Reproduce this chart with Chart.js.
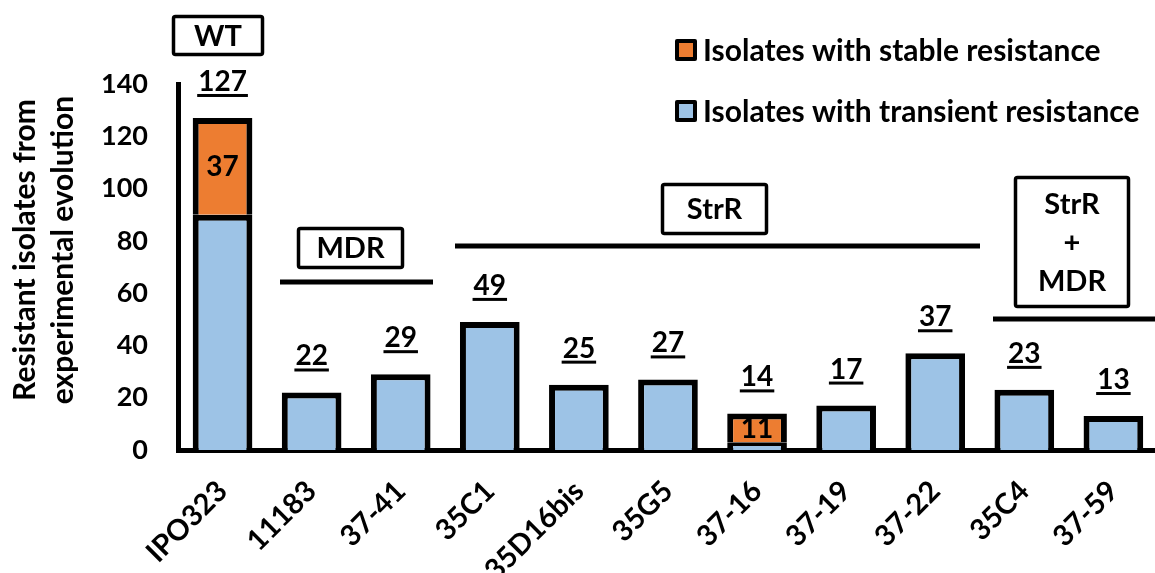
<!DOCTYPE html>
<html><head><meta charset="utf-8">
<script src="https://cdn.jsdelivr.net/npm/chart.js@4/dist/chart.umd.min.js"></script>
<style>html,body{margin:0;padding:0;background:#fff;overflow:hidden}#wrap{width:1155px;height:573px;overflow:hidden;position:relative;background:#fff}canvas{display:block}</style>
</head><body><div id="wrap"><canvas id="c" width="1162" height="573"></canvas></div>
<script>
// ---- data ----
const categories = ['IPO323','11183','37-41','35C1','35D16bis','35G5','37-16','37-19','37-22','35C4','37-59'];
const transientValues = [90, 22, 29, 49, 25, 27, 3, 17, 37, 23, 13];
const stableValues = [37, null, null, null, null, null, 11, null, null, null, null];
const seriesNames = ['Isolates with stable resistance', 'Isolates with transient resistance'];
const yTickValues = [0, 20, 40, 60, 80, 100, 120, 140];
const yTitle = ['Resistant isolates from', 'experimental evolution'];
const groupNames = [['WT'], ['MDR'], ['StrR'], ['StrR', '+', 'MDR']];

// ---- style ----
const FONT = 'Lato, "Open Sans", sans-serif';
const BLUE = '#9DC3E6', ORANGE = '#ED7D31';
const groupLayout = [
  {box: [172, 15, 264, 56], line: null},
  {box: [297, 227, 404, 269], line: [280, 433, 282]},
  {box: [661, 183, 768, 235], line: [455, 980, 246]},
  {box: [1014, 176, 1130, 308], line: [993, 1160, 319]}
];

const overlay = {
  id: 'overlay',
  afterDatasetsDraw(chart) {
    const ctx = chart.ctx;
    const y = chart.scales.y;
    const metaT = chart.getDatasetMeta(0);
    const metaS = chart.getDatasetMeta(1);
    ctx.save();
    ctx.fillStyle = '#000';
    ctx.strokeStyle = '#000';
    ctx.textAlign = 'center';
    // totals, underlined
    ctx.font = '700 28px ' + FONT;
    categories.forEach((c, i) => {
      const total = transientValues[i] + (stableValues[i] || 0);
      const x = metaT.data[i].x;
      const top = y.getPixelForValue(total);
      const txt = String(total);
      ctx.textBaseline = 'alphabetic';
      ctx.fillText(txt, x, top - 27);
      const w = ctx.measureText(txt).width;
      ctx.fillRect(x - w / 2 - 1, top - 24, w + 2, 3);
    });
    // inner labels on stable segments
    ctx.textBaseline = 'middle';
    stableValues.forEach((v, i) => {
      if (v == null) return;
      const x = metaS.data[i].x;
      const yc = y.getPixelForValue(transientValues[i] + v / 2);
      ctx.fillText(String(v), x, yc + 1);
    });
    // group annotations
    ctx.lineWidth = 3.5;
    groupLayout.forEach((g, k) => {
      const [x1, y1, x2, y2] = g.box;
      ctx.beginPath();
      ctx.roundRect(x1 + 1.5, y1 + 1.5, x2 - x1 - 3, y2 - y1 - 3, 2);
      ctx.stroke();
      const lines = groupNames[k];
      const cx = (x1 + x2) / 2, cy = (y1 + y2) / 2;
      const lh = 38.5;
      ctx.font = '700 29px ' + FONT;
      lines.forEach((t, j) => {
        ctx.fillText(t, cx, cy + (j - (lines.length - 1) / 2) * lh + 1);
      });
      if (g.line) {
        ctx.fillRect(g.line[0], g.line[2] - 2.5, g.line[1] - g.line[0], 5);
      }
    });
    // legend
    const leg = [[ORANGE, 50], [BLUE, 111]];
    leg.forEach(([col, cy], k) => {
      ctx.fillStyle = '#000';
      ctx.beginPath();
      ctx.roundRect(675, cy - 11, 22, 22, 2);
      ctx.fill();
      ctx.fillStyle = col;
      ctx.fillRect(679, cy - 7, 14, 14);
      ctx.fillStyle = '#000';
      ctx.textAlign = 'left';
      ctx.textBaseline = 'middle';
      ctx.font = '700 30px ' + FONT;
      ctx.fillText(seriesNames[k], 703, cy + 1);
    });
    // y axis title
    ctx.save();
    ctx.translate(0, 250);
    ctx.rotate(-Math.PI / 2);
    ctx.textAlign = 'center';
    ctx.textBaseline = 'middle';
    ctx.font = '700 30px ' + FONT;
    yTitle.forEach((t, j) => ctx.fillText(t, 0, 25 + j * 38));
    ctx.restore();
    ctx.restore();
  }
};

function build() {
  new Chart(document.getElementById('c'), {
    type: 'bar',
    data: {
      labels: categories,
      datasets: [
        {label: seriesNames[1], data: transientValues, backgroundColor: BLUE, borderColor: '#000', borderWidth: 6},
        {label: seriesNames[0], data: stableValues, backgroundColor: ORANGE, borderColor: '#000', borderWidth: 6}
      ]
    },
    options: {
      responsive: false,
      animation: false,
      devicePixelRatio: 1,
      datasets: {bar: {barPercentage: 0.67, categoryPercentage: 1}},
      layout: {padding: {left: 0, right: 0, top: 84, bottom: 0}},
      plugins: {legend: {display: false}, tooltip: {enabled: false}},
      scales: {
        x: {
          stacked: true,
          grid: {display: false, drawTicks: false},
          border: {display: true, color: '#000', width: 5},
          ticks: {color: '#000', font: {family: FONT, size: 29, weight: '700'}, minRotation: 45, maxRotation: 45, padding: 24, autoSkip: false},
          afterFit(s) { s.height = 123; }
        },
        y: {
          stacked: true,
          min: 0, max: 140,
          afterBuildTicks(s) { s.ticks = yTickValues.map(v => ({value: v})); },
          grid: {display: false, drawTicks: false},
          border: {display: true, color: '#000', width: 5},
          ticks: {color: '#000', font: {family: FONT, size: 27, weight: '700'}, padding: 30},
          afterFit(s) { s.width = 178; }
        }
      }
    },
    plugins: [overlay]
  });
}
if (document.fonts && document.fonts.load) {
  Promise.all([document.fonts.load('700 26px Lato')]).then(build, build);
} else build();
</script>
</body></html>
